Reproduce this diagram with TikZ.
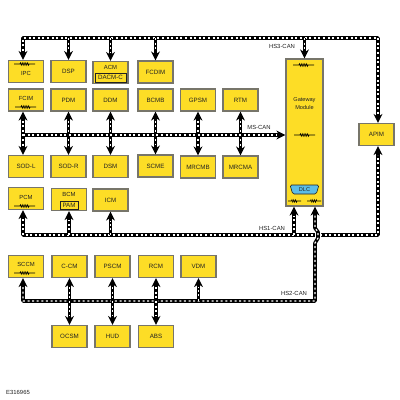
\documentclass[tikz,border=0pt]{standalone}
\usepackage{fontspec}
\setmainfont{Liberation Sans}
\usetikzlibrary{arrows.meta,calc,decorations.pathmorphing,shapes.geometric}
\definecolor{cEcu}{HTML}{FDDD26}
\definecolor{cEdge}{HTML}{77756A}
\definecolor{cDlc}{HTML}{5CBDE6}
\definecolor{cInk}{HTML}{222222}
\tikzset{
  ecu/.style   ={draw=cEdge,fill=cEcu,line width=1.2pt,minimum width=35pt,minimum height=22pt,
                 inner sep=0pt,align=center,font=\fontsize{6.2}{7}\selectfont,text=cInk},
  inbox/.style ={draw=cInk,line width=.7pt,inner sep=0pt,font=\fontsize{6.2}{7}\selectfont,text=cInk},
  lbl/.style   ={font=\fontsize{5.9}{7}\selectfont,text=cInk,inner sep=0pt},
  res/.style   ={draw=black,line width=.6pt,decorate,
                 decoration={zigzag,segment length=1.8pt,amplitude=1.2pt,pre length=6pt,post length=6pt}},
  canw/.style  ={draw=white,line width=1.2pt,dash pattern=on 2pt off 2.6pt},
  canto/.style ={draw=black,line width=3.6pt,line join=round,-{Stealth[length=9pt,width=9pt]},
                 postaction={canw,-,shorten >=9pt}},
  canboth/.style={draw=black,line width=3.6pt,line join=round,{Stealth[length=9pt,width=9pt]}-{Stealth[length=9pt,width=9pt]},
                 postaction={canw,-,shorten >=9pt,shorten <=9pt}},
}
\begin{document}
\begin{tikzpicture}[x=1pt,y=-1pt]
\useasboundingbox (0,0) rectangle (400,400);

% top row
\node[ecu,label={[lbl,yshift=-2pt]center:IPC}] (ipc) at (26,71.5) {};
\node[ecu] (dsp) at (68.5,71.5) {DSP};
\node[ecu,label={[lbl,yshift=5pt]center:ACM}] (acm) at (110.5,72.5) {};
\node[ecu] (fcdim) at (155.5,72) {FCDIM};

% MS-CAN row
\node[ecu,label={[lbl,yshift=2pt]center:FCIM}] (fcim) at (26,100) {};
\node[ecu] (pdm) at (68.5,100) {PDM};
\node[ecu] (ddm) at (110.5,100) {DDM};
\node[ecu] (bcmb) at (155.5,100) {BCMB};
\node[ecu] (gpsm) at (198,100) {GPSM};
\node[ecu] (rtm) at (240.5,100) {RTM};
\node[ecu] (sodl) at (26,166.5) {SOD-L};
\node[ecu] (sodr) at (68.5,166.5) {SOD-R};
\node[ecu] (dsm) at (110.5,166.5) {DSM};
\node[ecu] (scme) at (155.5,166) {SCME};
\node[ecu] (mrcmb) at (198,167) {MRCMB};
\node[ecu] (mrcma) at (240.5,167) {MRCMA};

% HS1-CAN row
\node[ecu,label={[lbl,yshift=1.5pt]center:PCM}] (pcm) at (26,198.5) {};
\node[ecu,label={[lbl,yshift=5pt]center:BCM}] (bcm) at (69,199.5) {};
\node[ecu] (icm) at (110.5,200) {ICM};

% HS2-CAN rows
\node[ecu,label={[lbl,yshift=2.5pt]center:SCCM}] (sccm) at (26,266.5) {};
\node[ecu] (ccm) at (69.5,266.5) {C-CM};
\node[ecu] (pscm) at (112.5,266.5) {PSCM};
\node[ecu] (rcm) at (156,266.5) {RCM};
\node[ecu] (vdm) at (198.5,266.5) {VDM};
\node[ecu] (ocsm) at (69.5,336.5) {OCSM};
\node[ecu] (hud) at (112.5,336.5) {HUD};
\node[ecu] (abs) at (156,336.5) {ABS};

% gateway and APIM
\node[ecu,minimum width=37pt,minimum height=147pt,
      label={[lbl,yshift=29pt,align=center,font=\fontsize{5.6}{7.4}\selectfont]center:Gateway\\Module}] (gw) at (304.5,132.5) {};
\node[ecu] (apim) at (376.5,134.5) {APIM};

% inner boxes
\node[inbox,minimum width=31pt,minimum height=9pt] (dacm) at (110.5,77.5) {DACM-C};
\node[inbox,minimum width=18pt,minimum height=8pt] (pam) at (69,205) {PAM};
\node[trapezium,shape border rotate=180,trapezium angle=72,draw=cInk,line width=.6pt,fill=cDlc,rounded corners=1.5pt,
      minimum width=29pt,minimum height=9pt,inner sep=0pt,trapezium stretches=true,font=\fontsize{5.6}{7}\selectfont,text=cInk] (dlc) at (304.5,189.5) {DLC};

% resistors
\draw[res] (14,64) -- (35,64);
\draw[res] (15,107) -- (36,107);
\draw[res] (14,206) -- (35,206);
\draw[res] (14,273) -- (35,273);
\draw[res] (293,65) -- (314,65);
\draw[res] (294,135) -- (315,135);
\draw[res,decoration={pre length=3.5pt,post length=3.5pt}] (288,201) -- (301,201);
\draw[res,decoration={pre length=3.5pt,post length=3.5pt}] (307,201) -- (321,201);

% bus corners
\coordinate (hs3w) at (23,38);
\coordinate (hs3e) at (378,38);
\coordinate (msw) at (23,135);
\coordinate (hs1w) at (23,235);
\coordinate (hs1e) at (378,235);
\coordinate (hs2w) at (23,301);
\coordinate (hs2e) at (315,301);
\coordinate (jog1) at (315,243);
\coordinate (jog2) at (318,238);
\coordinate (jog3) at (318,232);
\coordinate (jog4) at (315,228);

% HS3-CAN
\draw[canboth] ([xshift=-3pt]ipc.north) -- (hs3w) -- (hs3e) -- (hs3e |- apim.north);
\draw[canto] (dsp.north |- hs3w) -- (dsp.north);
\draw[canto] (acm.north |- hs3w) -- (acm.north);
\draw[canto] (fcdim.north |- hs3w) -- (fcdim.north);
\draw[canto] (gw.north |- hs3w) -- (gw.north);

% MS-CAN
\draw[canboth] ([xshift=-3pt]fcim.south) -- ([xshift=-3pt]sodl.north);
\draw[canboth] (pdm.south) -- (sodr.north);
\draw[canboth] (ddm.south) -- (dsm.north);
\draw[canboth] (bcmb.south) -- (scme.north);
\draw[canboth] (gpsm.south) -- (mrcmb.north);
\draw[canboth] (rtm.south) -- (mrcma.north);
\draw[canto] (msw) -- (msw -| gw.west);

% HS1-CAN
\draw[canboth] ([xshift=-3pt]pcm.south) -- (hs1w) -- (hs1e) -- (hs1e |- apim.south);
\draw[canto] (bcm.south |- hs1w) -- (bcm.south);
\draw[canto] (icm.south |- hs1w) -- (icm.south);
\draw[canto] ([xshift=-10.5pt]gw.south |- hs1w) -- ([xshift=-10.5pt]gw.south);

% HS2-CAN
\draw[white,line width=6pt] (jog1) -- (jog2) -- (jog3) -- (jog4);
\draw[canboth] ([xshift=-3pt]sccm.south) -- (hs2w) -- (hs2e) -- (jog1) -- (jog2) -- (jog3) -- (jog4) -- ([xshift=10.5pt]gw.south);
\draw[canboth] (ccm.south) -- (ocsm.north);
\draw[canboth] (pscm.south) -- (hud.north);
\draw[canboth] (rcm.south) -- (abs.north);
\draw[canto] (vdm.south |- hs2w) -- (vdm.south);

% bus names
\node[lbl] (hs3lbl) at (282,46) {HS3-CAN};
\node[lbl] (mslbl) at (259,127) {MS-CAN};
\node[lbl] (hs1lbl) at (272,228) {HS1-CAN};
\node[lbl] (hs2lbl) at (294,293) {HS2-CAN};
\node[lbl,anchor=west] (figno) at (6,392) {E316965};
\end{tikzpicture}
\end{document}
